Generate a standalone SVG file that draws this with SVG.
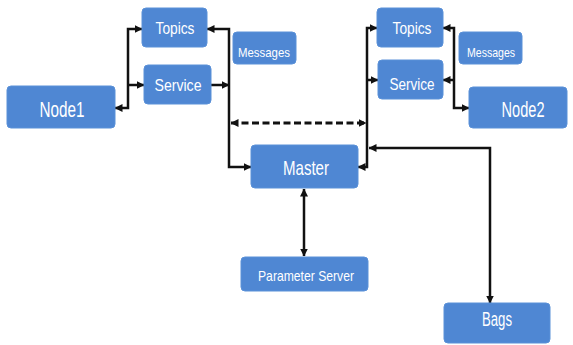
<svg xmlns="http://www.w3.org/2000/svg" width="573" height="345" viewBox="0 0 573 345">
<style>
.box{fill:#4f87d3;stroke:#5b91d8;stroke-width:1}
.t{fill:#ffffff;font-family:"Liberation Sans",Arial,sans-serif;text-anchor:middle}
.c{fill:none;stroke:#111;stroke-width:2.5}
.d{stroke-dasharray:7 3.5;stroke-width:3}
</style>
<defs>
<marker id="ah" viewBox="0 0 8 8" refX="7.5" refY="4" markerWidth="8" markerHeight="8" markerUnits="userSpaceOnUse" orient="auto-start-reverse">
<path d="M0,0 L8,4 L0,8 z" fill="#111"/>
</marker>
</defs>
<rect width="573" height="345" fill="#ffffff"/>
<g id="connectors">
<path class="c" d="M142,29 H128 V108 H115" marker-start="url(#ah)" marker-end="url(#ah)"/>
<path class="c" d="M128,85 H144" marker-end="url(#ah)"/>
<path class="c" d="M207,29 H229 V167 H251" marker-start="url(#ah)" marker-end="url(#ah)"/>
<path class="c" d="M211,85 H229" marker-end="url(#ah)"/>
<path class="c d" d="M231,123 H366" marker-start="url(#ah)" marker-end="url(#ah)"/>
<path class="c" d="M377,28 H367 V167 H358" marker-start="url(#ah)" marker-end="url(#ah)"/>
<path class="c" d="M367,80 H378" marker-end="url(#ah)"/>
<path class="c" d="M443,28 H454 V108 H469" marker-start="url(#ah)" marker-end="url(#ah)"/>
<path class="c" d="M454,80 H443" marker-end="url(#ah)"/>
<path class="c" d="M304,189 V256" marker-start="url(#ah)" marker-end="url(#ah)"/>
<path class="c" d="M369,148 H490 V303" marker-start="url(#ah)" marker-end="url(#ah)"/>
</g>
<g id="node1"><rect class="box" x="7" y="86" width="108" height="42" rx="4"/><text class="t" x="62" y="117" font-size="22" textLength="45" lengthAdjust="spacingAndGlyphs">Node1</text></g>
<g id="topics-left"><rect class="box" x="142" y="8" width="65" height="39" rx="4"/><text class="t" x="175" y="34" font-size="17" textLength="39" lengthAdjust="spacingAndGlyphs">Topics</text></g>
<g id="service-left"><rect class="box" x="144" y="65" width="67" height="39" rx="4"/><text class="t" x="178" y="91" font-size="17" textLength="47" lengthAdjust="spacingAndGlyphs">Service</text></g>
<g id="messages-left"><rect class="box" x="233" y="32" width="63" height="32" rx="4"/><text class="t" x="264" y="57" font-size="13" textLength="52" lengthAdjust="spacingAndGlyphs">Messages</text></g>
<g id="master"><rect class="box" x="251" y="145" width="107" height="43" rx="4"/><text class="t" x="306" y="175" font-size="21" textLength="46" lengthAdjust="spacingAndGlyphs">Master</text></g>
<g id="parameter-server"><rect class="box" x="241" y="257" width="127" height="34" rx="4"/><text class="t" x="306" y="281" font-size="15" textLength="96" lengthAdjust="spacingAndGlyphs">Parameter Server</text></g>
<g id="topics-right"><rect class="box" x="377" y="8" width="66" height="39" rx="4"/><text class="t" x="412" y="34" font-size="17" textLength="39" lengthAdjust="spacingAndGlyphs">Topics</text></g>
<g id="service-right"><rect class="box" x="378" y="60" width="65" height="39" rx="4"/><text class="t" x="412" y="90" font-size="17" textLength="45" lengthAdjust="spacingAndGlyphs">Service</text></g>
<g id="messages-right"><rect class="box" x="459" y="32" width="63" height="32" rx="4"/><text class="t" x="491" y="57" font-size="13" textLength="48" lengthAdjust="spacingAndGlyphs">Messages</text></g>
<g id="node2"><rect class="box" x="469" y="87" width="98" height="41" rx="4"/><text class="t" x="523" y="117" font-size="22" textLength="43" lengthAdjust="spacingAndGlyphs">Node2</text></g>
<g id="bags"><rect class="box" x="444" y="303" width="106" height="40" rx="4"/><text class="t" x="497" y="326" font-size="20" textLength="30" lengthAdjust="spacingAndGlyphs">Bags</text></g>
</svg>
